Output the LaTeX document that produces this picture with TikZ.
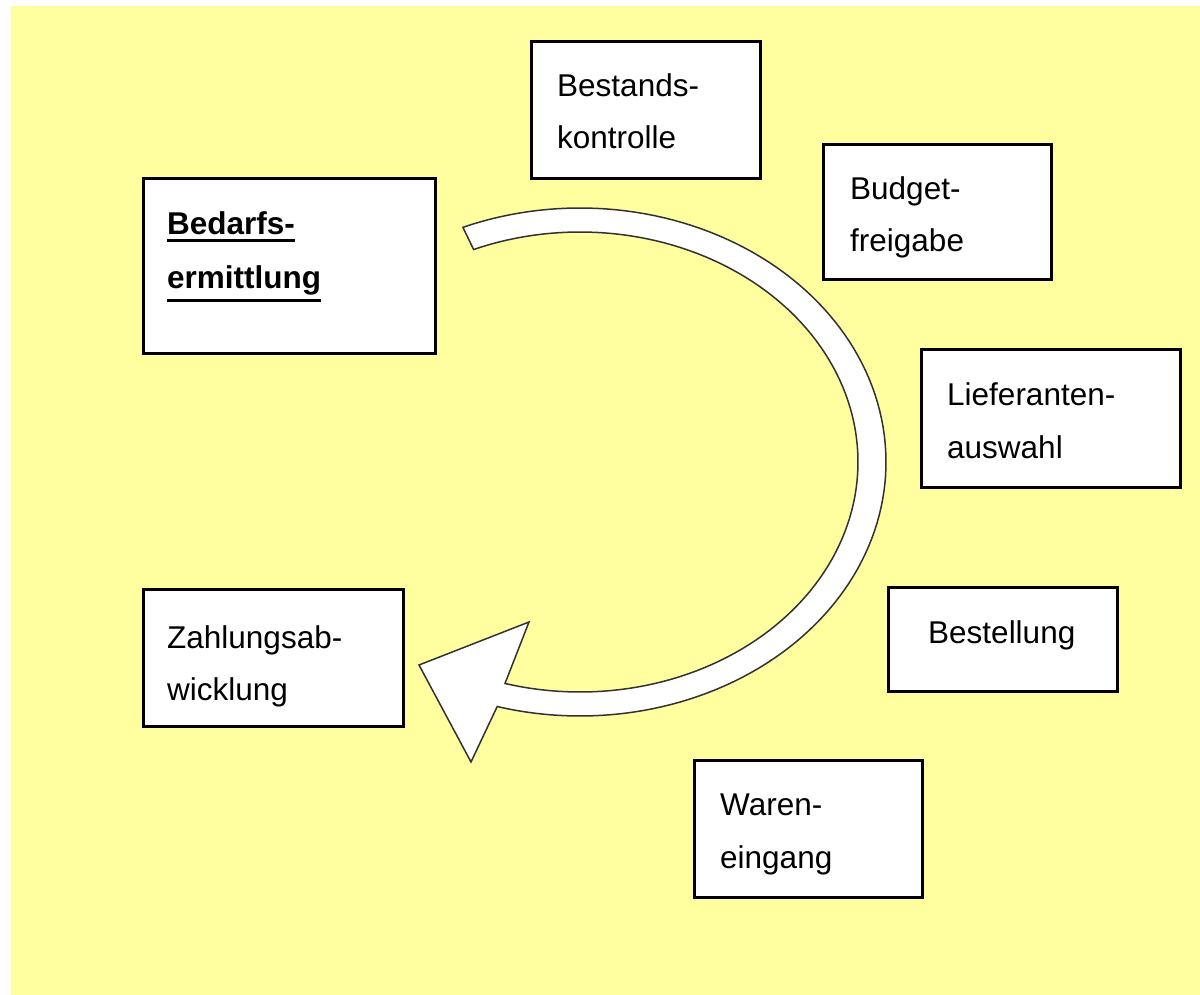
\documentclass[tikz,border=0pt]{standalone}
\usepackage{fontspec}
\setmainfont{Liberation Sans}
\definecolor{bgyellow}{RGB}{255,255,160}
\definecolor{arrowline}{RGB}{50,50,50}
\begin{document}
\begin{tikzpicture}[x=1pt,y=-1pt,
  box/.style={draw=black, line width=3pt, fill=white, inner sep=0pt, anchor=north west},
  lbl/.style={anchor=base west, inner sep=0pt, font=\fontsize{31.5}{36}\selectfont, text=black},
  blbl/.style={lbl, font=\fontsize{31.5}{36}\selectfont\bfseries},
  uline/.style={draw=black, line width=3pt}]
\useasboundingbox (0,0) rectangle (1200,995);
\fill[bgyellow] (11,6) rectangle (1200,995);

% boxes
\node[box, minimum width=229pt, minimum height=137pt] (bk) at (530,40) {};
\node[box, minimum width=228pt, minimum height=135pt] (bf) at (822,143) {};
\node[box, minimum width=259pt, minimum height=138pt] (la) at (920,348) {};
\node[box, minimum width=229pt, minimum height=104pt] (bs) at (887,586) {};
\node[box, minimum width=228pt, minimum height=137pt] (we) at (693,759) {};
\node[box, minimum width=292pt, minimum height=175pt] (be) at (142,177) {};
\node[box, minimum width=260pt, minimum height=137pt] (za) at (142,588) {};

% labels
\node[lbl] (bk1) at (557,97) {Bestands-};
\node[lbl] (bk2) at (557,149) {kontrolle};
\node[lbl] (bf1) at (850,200) {Budget-};
\node[lbl] (bf2) at (850,252) {freigabe};
\node[lbl] (la1) at (947,405) {Lieferanten-};
\node[lbl] (la2) at (947,458) {auswahl};
\node[lbl] (bs1) at (928,643) {Bestellung};
\node[lbl] (we1) at (720,815) {Waren-};
\node[lbl] (we2) at (720,868) {eingang};
\node[blbl] (be1) at (167,235) {Bedarfs-};
\node[blbl] (be2) at (167,288) {ermittlung};
\node[lbl] (za1) at (167,648) {Zahlungsab-};
\node[lbl] (za2) at (167,700) {wicklung};

\draw[uline] ([yshift=-6pt]be1.base west) -- ([yshift=-6pt]be1.base east);
\draw[uline] ([yshift=-6pt]be2.base west |- 0,294) -- ([yshift=-6pt]be2.base east |- 0,294);

% curved arrow
\draw[fill=white, draw=arrowline, line width=1.5pt, line join=miter]
  plot[domain=-112.5:105.7, samples=120, variable=\t] ({580+306*cos(\t)},{462+254*sin(\t)})
  -- (471,762) -- (419,665) -- (529,622)
  -- plot[domain=105.65:-112.5, samples=120, variable=\t] ({580+278*cos(\t)},{462+230*sin(\t)})
  -- cycle;
\end{tikzpicture}
\end{document}
